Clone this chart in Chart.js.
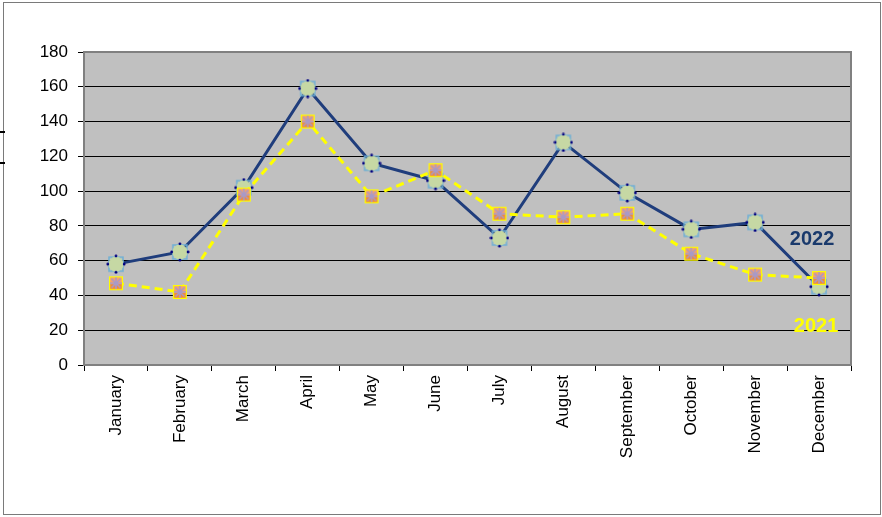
<!DOCTYPE html>
<html>
<head>
<meta charset="utf-8">
<script src="https://cdn.jsdelivr.net/npm/chart.js@4"></script>
<style>
  html, body { margin: 0; padding: 0; background: #fff; }
  #wrap { width: 882px; height: 517px; position: relative; }
</style>
</head>
<body>
<div id="wrap"><canvas id="lineChart" width="882" height="517"></canvas></div>
<script>
// data
const months = ['January', 'February', 'March', 'April', 'May', 'June',
  'July', 'August', 'September', 'October', 'November', 'December'];
const values2022 = [58, 65, 102, 159, 116, 106, 73, 128, 99, 78, 82, 45];
const values2021 = [47, 42, 98, 140, 97, 112, 87, 85, 87, 64, 52, 50];
const yTicks = [0, 20, 40, 60, 80, 100, 120, 140, 160, 180];

// marker images (Excel style)
function marker2022() {
  let c = document.createElement('canvas');
  c.width = 20; c.height = 20;
  let g = c.getContext('2d');
  g.strokeStyle = '#6fb0d4';
  g.lineWidth = 1.5;
  g.strokeRect(3, 3, 14, 14);
  g.fillStyle = '#c6d8a4';
  g.beginPath(); g.arc(10, 10, 7.6, 0, Math.PI * 2); g.fill();
  g.fillStyle = '#000080';
  [[10, 1.8], [10, 18.2], [1.8, 10], [18.2, 10]].forEach(p => {
    g.beginPath(); g.arc(p[0], p[1], 1.4, 0, Math.PI * 2); g.fill();
  });
  return c;
}

function marker2021() {
  let c = document.createElement('canvas');
  c.width = 18; c.height = 18;
  let g = c.getContext('2d');
  g.fillStyle = '#f4a070';
  g.fillRect(2, 2, 14, 14);
  g.fillStyle = '#f08a3c';
  g.fillRect(2, 10, 14, 6);
  g.strokeStyle = '#ffff00';
  g.lineWidth = 1.2;
  g.strokeRect(2.6, 2.6, 12.8, 12.8);
  g.strokeStyle = '#a89ac8';
  g.lineWidth = 1.6;
  g.beginPath();
  g.moveTo(9, 3); g.lineTo(9, 15);
  g.moveTo(3, 9); g.lineTo(15, 9);
  g.moveTo(4.5, 4.5); g.lineTo(13.5, 13.5);
  g.moveTo(13.5, 4.5); g.lineTo(4.5, 13.5);
  g.stroke();
  return c;
}

const framePlugin = {
  id: 'frame',
  beforeDraw(chart) {
    const ctx = chart.ctx;
    const a = chart.chartArea;
    ctx.save();
    ctx.fillStyle = '#c0c0c0';
    ctx.fillRect(a.left, a.top, a.right - a.left, a.bottom - a.top);
    ctx.restore();
  },
  afterDraw(chart) {
    const ctx = chart.ctx;
    const a = chart.chartArea;
    ctx.save();
    ctx.strokeStyle = '#808080';
    ctx.lineWidth = 2;
    ctx.strokeRect(a.left, a.top, a.right - a.left, a.bottom - a.top);
    // outer chart border
    ctx.strokeStyle = '#7a7a7a';
    ctx.lineWidth = 1;
    ctx.strokeRect(3.5, 2.5, 877, 512);
    ctx.fillStyle = '#000';
    ctx.fillRect(0, 131, 5, 2);
    ctx.fillRect(0, 162, 5, 2);
    // series names near the last month
    const xs = chart.scales.x, ys = chart.scales.y;
    const xLast = xs.getPixelForValue(months.length - 1);
    ctx.font = 'bold 20px "Liberation Sans", Arial, sans-serif';
    ctx.textAlign = 'center';
    ctx.textBaseline = 'middle';
    ctx.fillStyle = '#1a3a6c';
    ctx.fillText('2022', xLast - 7, ys.getPixelForValue(72));
    ctx.fillStyle = '#ffff00';
    ctx.fillText('2021', xLast - 3, ys.getPixelForValue(22));
    ctx.restore();
  }
};

let ctxLine = document.getElementById('lineChart').getContext('2d');

let LineChart = new Chart(ctxLine, {
  type: 'line',
  data: {
    labels: months,
    datasets: [
      {
        label: '2021',
        data: values2021,
        borderColor: '#ffff00',
        borderWidth: 3,
        borderDash: [8, 5],
        pointStyle: marker2021(),
        tension: 0,
        order: 0
      }, {
        label: '2022',
        data: values2022,
        borderColor: '#1f3d7c',
        borderWidth: 3,
        pointStyle: marker2022(),
        tension: 0,
        order: 1
      }
    ]
  },
  options: {
    responsive: false,
    animation: false,
    layout: {
      padding: { top: 52, right: 31, left: 0, bottom: 0 }
    },
    plugins: {
      legend: { display: false },
      tooltip: { enabled: false }
    },
    scales: {
      x: {
        offset: true,
        grid: {
          offset: true,
          drawOnChartArea: false,
          drawTicks: true,
          tickLength: 6,
          color: '#000'
        },
        border: { color: '#808080', width: 2 },
        ticks: {
          minRotation: 90,
          maxRotation: 90,
          padding: 4,
          color: '#000',
          font: { family: '"Liberation Sans", Arial, sans-serif', size: 17 }
        },
        afterFit: (scale) => { scale.height = 152; }
      },
      y: {
        min: 0,
        max: 180,
        afterBuildTicks: (scale) => { scale.ticks = yTicks.map(v => ({ value: v })); },
        grid: {
          color: '#000',
          lineWidth: 1,
          tickLength: 6
        },
        border: { color: '#808080', width: 2 },
        ticks: {
          padding: 10,
          color: '#000',
          font: { family: '"Liberation Sans", Arial, sans-serif', size: 17 }
        },
        afterFit: (scale) => { scale.width = 84; }
      }
    }
  },
  plugins: [framePlugin]
});
</script>
</body>
</html>
